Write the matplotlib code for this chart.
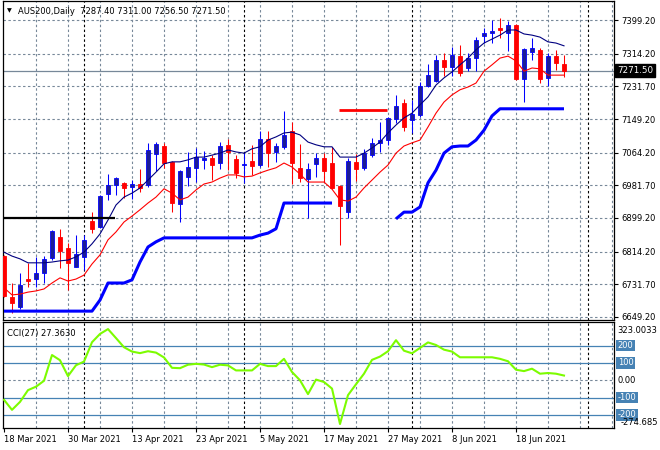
import matplotlib
matplotlib.use("Agg")
import matplotlib.pyplot as plt
import matplotlib.transforms as mtransforms
import numpy as np

plt.rcParams["font.family"] = ["DejaVu Sans"]
plt.rcParams["font.size"] = 6

# --- data (bar index 0 = 18 Mar 2021) ---
opens = [6803, 6700, 6675, 6745, 6745, 6760, 6798, 6852, 6824, 6776,
         6801, 6892, 6877, 6960, 6983, 6988, 6978, 6985, 6983, 7061,
         7081, 7041, 6935, 7003, 7026, 7046, 7051, 7038, 7084, 7048,
         7033, 7043, 7033, 7099, 7066, 7079, 7119, 7026, 6998, 7036,
         7051, 7038, 6980, 6914, 7041, 7026, 7058, 7089, 7096, 7149,
         7190, 7147, 7159, 7233, 7245, 7298, 7281, 7308, 7278, 7303,
         7359, 7366, 7379, 7366, 7387, 7250, 7318, 7323, 7253, 7308,
         7287.4]
highs = [6806, 6735, 6760, 6786, 6801, 6803, 6868, 6871, 6836, 6856,
         6856, 6914, 6957, 7010, 7003, 6990, 6995, 7023, 7089, 7091,
         7089, 7043, 7020, 7066, 7076, 7068, 7058, 7091, 7099, 7058,
         7063, 7084, 7119, 7119, 7089, 7169, 7142, 7086, 7038, 7063,
         7063, 7079, 6982, 7051, 7061, 7074, 7101, 7142, 7154, 7210,
         7200, 7197, 7243, 7288, 7311, 7316, 7331, 7336, 7316, 7356,
         7379, 7399, 7404, 7397, 7389, 7328, 7354, 7329, 7316, 7323,
         7311.0]
lows = [6699, 6659, 6669, 6725, 6725, 6735, 6793, 6773, 6717, 6775,
        6768, 6861, 6875, 6945, 6957, 6950, 6947, 6965, 6978, 7018,
        7026, 6914, 6889, 6980, 6990, 7023, 6995, 7023, 7020, 7000,
        6988, 7008, 7028, 7028, 7041, 7074, 6985, 6990, 6899, 7003,
        6990, 6973, 6831, 6899, 6993, 7020, 7053, 7066, 7084, 7139,
        7119, 7114, 7154, 7230, 7243, 7258, 7258, 7258, 7270, 7270,
        7341, 7341, 7354, 7321, 7248, 7192, 7298, 7240, 7233, 7273,
        7256.5]
closes = [6702, 6685, 6730, 6740, 6760, 6796, 6866, 6817, 6786, 6808,
          6844, 6872, 6955, 6983, 7000, 6976, 6985, 6975, 7071, 7086,
          7038, 6937, 7018, 7028, 7053, 7051, 7033, 7081, 7066, 7013,
          7036, 7031, 7099, 7063, 7081, 7109, 7038, 7000, 7023, 7051,
          7018, 6975, 6930, 7043, 7023, 7063, 7089, 7096, 7152, 7182,
          7129, 7162, 7233, 7260, 7298, 7281, 7311, 7265, 7303, 7349,
          7366, 7371, 7374, 7387, 7250, 7326, 7329, 7250, 7308, 7291,
          7271.5]

upper_ma = [6813, 6803, 6796, 6786, 6786, 6786, 6788, 6791, 6793, 6801,
            6813, 6834, 6859, 6894, 6932, 6952, 6962, 6975, 6995, 7015,
            7036, 7041, 7041, 7046, 7053, 7053, 7058, 7063, 7071, 7066,
            7063, 7074, 7079, 7096, 7104, 7114, 7116, 7109, 7091, 7084,
            7079, 7079, 7053, 7053, 7053, 7063, 7076, 7091, 7114, 7134,
            7152, 7164, 7185, 7205, 7235, 7253, 7268, 7286, 7303, 7324,
            7341, 7351, 7361, 7374, 7374, 7364, 7361, 7356, 7344, 7341,
            7334]
lower_ma = [6723, 6705, 6707, 6712, 6715, 6720, 6735, 6748, 6740, 6745,
            6755, 6783, 6806, 6844, 6864, 6889, 6904, 6920, 6937, 6952,
            6973, 6962, 6945, 6952, 6970, 6985, 6990, 7000, 7008, 7008,
            7003, 7005, 7013, 7020, 7026, 7038, 7028, 7010, 6990, 6990,
            6990, 6972, 6945, 6942, 6952, 6975, 6995, 7015, 7033, 7063,
            7081, 7089, 7096, 7129, 7164, 7192, 7210, 7223, 7230, 7240,
            7270, 7286, 7303, 7308, 7296, 7270, 7278, 7276, 7260, 7260,
            7260]

stop_a_start = 0
stop_a = [6664, 6664, 6664, 6664, 6664, 6664, 6664, 6664, 6664, 6664,
          6664, 6664, 6692, 6735, 6735, 6735, 6743, 6788, 6826, 6839,
          6849, 6849, 6849, 6849, 6849, 6849, 6849, 6849, 6849, 6849,
          6849, 6849, 6856, 6861, 6872, 6937, 6937, 6937, 6937, 6937,
          6937, 6937]
stop_b_start = 49
stop_b = [6897, 6914, 6914, 6927, 6988, 7020, 7063, 7079, 7081, 7081,
          7096, 7121, 7157, 7175, 7175, 7175, 7175, 7175, 7175, 7175,
          7175, 7175]

black_level, black_span = 6899.2, (-0.2, 13.9)
red_level, red_span = 7173.0, (41.9, 47.9)
last_price = 7271.5

cci = [-113, -171, -125, -57, -37, -3, 146, 116, 24, 87,
       108, 220, 268, 296, 244, 191, 166, 157, 168, 160,
       132, 72, 70, 90, 95, 91, 76, 90, 86, 57,
       57, 57, 95, 82, 82, 124, 48, 0, -80, 4,
       -10, -48, -253, -86, -23, 38, 118, 137, 168, 232,
       171, 156, 187, 219, 204, 177, 166, 133, 133, 133,
       133, 133, 124, 110, 61, 53, 67, 38, 42, 38,
       27.363]

price_ticks = [7399.20, 7314.20, 7231.70, 7149.20, 7064.20,
               6981.70, 6899.20, 6814.20, 6731.70, 6649.20]
date_ticks = [0, 8, 16, 24, 32, 40, 48, 56, 64]
date_labels = ["18 Mar 2021", "30 Mar 2021", "13 Apr 2021", "23 Apr 2021",
               "5 May 2021", "17 May 2021", "27 May 2021", "8 Jun 2021",
               "18 Jun 2021"]
month_starts = [10, 30, 51, 73]
cci_levels = [200, 100, -100, -200]

GRID = "#778899"
W, H = 660, 450

fig = plt.figure(figsize=(6.6, 4.5), dpi=100)
ax = fig.add_axes([3 / W, 1 - 320 / H, 611 / W, 319 / H])
ax2 = fig.add_axes([3 / W, 1 - 428 / H, 611 / W, 106 / H], sharex=ax)

x = np.arange(len(opens))
o, h, l, c = map(np.asarray, (opens, highs, lows, closes))
bull = c >= o

# grid and separators
for a in (ax, ax2):
    for gx in range(4, 80, 4):
        a.axvline(gx, color=GRID, lw=0.8, dashes=(2.2, 2.2), zorder=0)
    for mx in month_starts:
        a.axvline(mx, color="black", lw=0.8, dashes=(2.2, 2.2), zorder=0.5)
for py in price_ticks:
    ax.axhline(py, color=GRID, lw=0.8, dashes=(2.2, 2.2), zorder=0)
ax.axhline(last_price, color=GRID, lw=0.9, zorder=1)

# candles
wick_colors = np.where(bull, "#0000ff", "#ff0000")
ax.vlines(x, l, h, colors=wick_colors, lw=0.75, zorder=3)
body_low = np.minimum(o, c)
body_h = np.maximum(np.abs(c - o), 2.0)
ax.bar(x[bull], body_h[bull], bottom=body_low[bull], width=0.62,
       color="#1c1c96", edgecolor="#0000ff", lw=0.6, zorder=4)
ax.bar(x[~bull], body_h[~bull], bottom=body_low[~bull], width=0.62,
       color="#ff0000", edgecolor="#ff0000", lw=0.6, zorder=4)

# indicators
ax.plot(x, upper_ma, color="#000080", lw=0.8, zorder=5)
ax.plot(x, lower_ma, color="#ff0000", lw=0.8, zorder=5)
ax.plot(np.arange(stop_a_start, stop_a_start + len(stop_a)), stop_a,
        color="#0000ff", lw=2.2, zorder=5, solid_capstyle="butt")
ax.plot(np.arange(stop_b_start, stop_b_start + len(stop_b)), stop_b,
        color="#0000ff", lw=2.2, zorder=5, solid_capstyle="butt")
ax.hlines(black_level, *black_span, color="black", lw=1.6, zorder=5)
ax.hlines(red_level, *red_span, color="#ff0000", lw=2.0, zorder=5)

ax.set_xlim(-0.125, 76.25)
ax.set_ylim(6641.6, 7447.2)
ax.yaxis.tick_right()
ax.set_yticks(price_ticks)
ax.set_yticklabels([f"{v:.2f}" for v in price_ticks])
ax.tick_params(axis="y", length=3, pad=2, labelsize=6)
ax.tick_params(axis="x", bottom=False, labelbottom=False)

ax.text(1.005, last_price, f"{last_price:.2f}", transform=mtransforms.blended_transform_factory(ax.transAxes, ax.transData),
        ha="left", va="center", color="white", fontsize=6.3,
        bbox=dict(boxstyle="square,pad=0.25", fc="black", ec="black"), zorder=10, clip_on=False)

fig.text(9 / W, 1 - 11 / H, "\u25bc", fontsize=4.5, ha="center", va="center")
fig.text(18 / W, 1 - 11 / H, "AUS200,Daily  7287.40 7311.00 7256.50 7271.50",
         fontsize=6, ha="left", va="center")

# CCI panel
ax2.plot(x, cci, color="#7cfc00", lw=1.5, zorder=5)
for lv in cci_levels:
    ax2.axhline(lv, color="#4682b4", lw=0.9, zorder=1)
ax2.axhline(0, color=GRID, lw=0.8, dashes=(2.2, 2.2), zorder=0)
ax2.set_ylim(-276, 337)
ax2.set_yticks([])
blend = mtransforms.blended_transform_factory(ax2.transAxes, ax2.transData)
for lv in cci_levels:
    ax2.text(1.006, lv, f"{lv}", transform=blend, ha="left", va="center",
             color="white", fontsize=6,
             bbox=dict(boxstyle="square,pad=0.15", fc="#4682b4", ec="none"), clip_on=False)
ax2.text(1.006, 0, "0.00", transform=blend, ha="left", va="center", fontsize=6, clip_on=False)
ax2.text(1.006, 290, "323.0033", transform=blend, ha="left", va="center", fontsize=6, clip_on=False)
ax2.text(1.01, -244, "-274.685", transform=blend, ha="left", va="center", fontsize=6, clip_on=False)
ax2.text(0.006, 0.93, "CCI(27) 27.3630", transform=ax2.transAxes, ha="left", va="top", fontsize=6)

ax2.set_xticks(date_ticks)
ax2.set_xticklabels(date_labels)
for lab in ax2.get_xticklabels():
    lab.set_ha("left")
ax2.tick_params(axis="x", length=3, pad=2, labelsize=6)

for a in (ax, ax2):
    for s in a.spines.values():
        s.set_linewidth(0.9)

fig.savefig("out.png", dpi=100)
